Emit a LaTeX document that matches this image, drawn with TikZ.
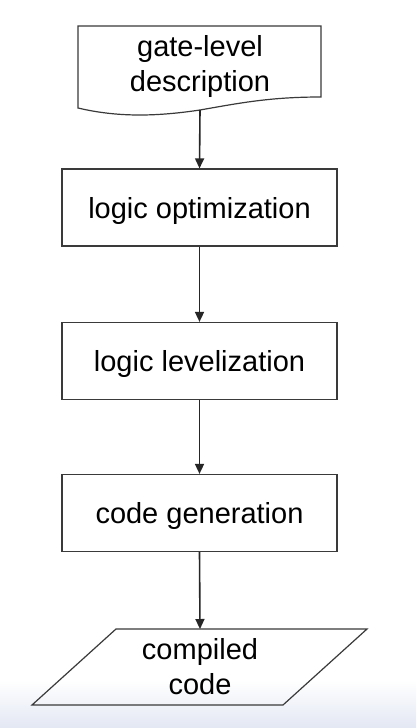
\documentclass[tikz,border=0pt]{standalone}
\usepackage{fontspec}
\setmainfont{Liberation Sans}
\usetikzlibrary{arrows.meta}
\definecolor{edge}{HTML}{3A3A3A}
\definecolor{shadecol}{HTML}{E3E7F3}
\begin{document}
\begin{tikzpicture}[x=1pt,y=-1pt,
  stepbox/.style={draw=edge, line width=1.2pt, minimum width=275pt, minimum height=77pt, inner sep=0pt, text height=21pt, text depth=0pt, font=\fontsize{29}{35}\selectfont},
  flow/.style={draw=black!85, line width=1.6pt, -{Triangle[length=10pt,width=9pt]}},
  shapeline/.style={draw=edge, line width=1.2pt},
  txt/.style={font=\fontsize{29}{35}\selectfont, align=center, inner sep=0pt}]
\useasboundingbox (0,0) rectangle (416,728);
\fill[white] (0,0) rectangle (416,728);
\shade[top color=white,bottom color=shadecol] (0,680) rectangle (416,728);
% document shape
\draw[shapeline] (78,108) -- (78,26) -- (321,26) -- (321,97) .. controls (270,97) and (240,103) .. (200,110) .. controls (160,116) and (120,118) .. (78,108) -- cycle;
\coordinate (docb) at (200,110);
\node[txt] (doc) at (200,67) {gate-level\\description};
% boxes
\node[stepbox] (opt) at (199.5,207.5) {logic optimization};
\node[stepbox] (lev) at (199.5,361) {logic levelization};
\node[stepbox] (gen) at (199.5,513) {code generation};
% parallelogram
\draw[shapeline] (116,629) -- (367,629) -- (283,705) -- (32,705) -- cycle;
\coordinate (outt) at (200,629);
\node[txt] (out) at (200,667) {compiled\\code};
% connectors
\draw[flow] (docb) -- (opt.north);
\draw[flow] (opt.south) -- (lev.north);
\draw[flow] (lev.south) -- (gen.north);
\draw[flow] (gen.south) -- (outt);
\end{tikzpicture}
\end{document}
